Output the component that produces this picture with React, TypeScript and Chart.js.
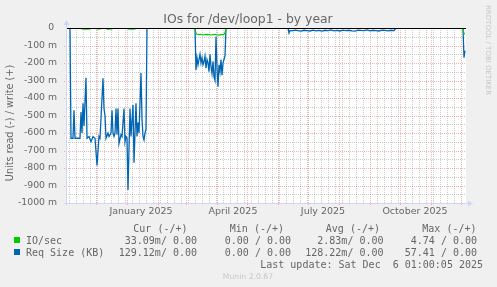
import React, { useEffect, useRef } from "react";
import { Chart, registerables } from "chart.js";

Chart.register(...registerables);

// ---- data (days since 1 Nov 2024; values in milli-units, read side is negative) ----
const reqDays = [
  0, 4, 5, 6, 7, 8, 9, 11, 14, 15, 16, 17, 18, 20, 21, 23, 25, 27, 29, 31, 33, 34, 37, 38, 39, 40, 42, 43,
  45, 46, 47, 48, 49, 50, 51, 52, 53, 55, 56, 58, 59, 60, 61, 62, 64, 65, 67, 68, 70, 71, 72, 73, 75, 76,
  77, 78, 79, 80, 81,
  129, 130, 131, 132, 133, 134, 135, 136, 137, 138, 139, 140, 141, 142, 143, 144, 145, 146, 147, 148, 149,
  150, 151, 152, 153, 154, 155, 156, 157, 158, 159, 160,
  222, 223, 224, 226, 229, 232, 235, 238, 241, 244, 247, 250, 253, 256, 259, 262, 265, 268, 271, 274, 277,
  280, 283, 286, 289, 292, 295, 298, 301, 304, 307, 310, 313, 316, 319, 322, 325, 328, 330,
  397, 398, 399,
];
const reqRead = [
  0, 0, -630, -630, -630, -470, -630, -630, -630, -480, -600, -430, -560, -285, -630, -620, -650, -620, -630,
  -785, -620, -630, -287, -460, -500, -630, -600, -620,
  -600, -470, -600, -620, -600, -460, -610, -460, -660, -610, -620, -460, -650, -620, -630, -925, -460, -620,
  -440, -770, -430, -620, -540, -600, -257, -520, -620, -640, -600, -580, 0,
  0, -240, -170, -210, -180, -150, -200, -170, -210, -190, -160, -230, -180, -200, -250, -150, -220, -260,
  -190, -280, -300, -50, -230, -335, -210, -250, -180, -270, -200, -180, -160, 0,
  0, -28, -14, -16, -12, -15, -18, -13, -15, -17, -12, -16, -14, -18, -13, -15, -11, -16, -14, -17, -12,
  -15, -13, -16, -18, -12, -14, -15, -11, -16, -13, -15, -17, -12, -14, -16, -13, -15, 0,
  0, -170, -129,
];

const ioDays = [
  0, 15, 16, 20, 24, 25, 30, 31, 34, 35, 40, 41, 46, 47, 61, 62, 66, 69, 70,
  129, 130, 131, 133, 135, 137, 139, 141, 143, 145, 147, 149, 151, 153, 155, 157, 158, 159, 160,
  397, 398, 399,
];
const ioRead = [
  0, 0, -5, -6, -5, 0, 0, -5, -5, 0, 0, -6, -5, 0, 0, -5, -6, -5, 0,
  0, -30, -36, -38, -36, -40, -38, -36, -38, -40, -38, -36, -40, -41, -38, -38, -36, -28, 0,
  0, -33, -33,
];

const yTickValues = [0, -100, -200, -300, -400, -500, -600, -700, -800, -900, -1000];
const monthStartDays = [0, 30, 61, 92, 120, 151, 181, 212, 242, 273, 304, 334, 365, 395];
const quarterLabels = ["January 2025", "April 2025", "July 2025", "October 2025"];
const quarterLabelDays = [75, 167, 257, 349];

const legendNames = ["IO/sec", "Req Size (KB)"];
const legendColors = ["#00cc00", "#0066b3"];
const legendHeaders = ["Cur (-/+)", "Min (-/+)", "Avg (-/+)", "Max (-/+)"];
const curVals = ["33.09m/ 0.00", "129.12m/ 0.00"];
const minVals = ["0.00 / 0.00", "0.00 / 0.00"];
const avgVals = ["2.83m/ 0.00", "128.22m/ 0.00"];
const maxVals = ["4.74 / 0.00", "57.41 / 0.00"];
const lastUpdate = "Last update: Sat Dec  6 01:00:05 2025";
const titleText = "IOs for /dev/loop1 - by year";
const yTitle = "Units read (-) / write (+)";

// ---- layout / style ----
const W = 497;
const H = 287;
const FONT = "#666666";
const AXIS = "#cfd6f8";
const SANS = "'DejaVu Sans', sans-serif";
const MONO = "'DejaVu Sans Mono', monospace";

function hLine(ctx: CanvasRenderingContext2D, x1: number, x2: number, y: number) {
  ctx.beginPath();
  ctx.moveTo(x1, y);
  ctx.lineTo(x2, y);
  ctx.stroke();
}
function vLine(ctx: CanvasRenderingContext2D, x: number, y1: number, y2: number) {
  ctx.beginPath();
  ctx.moveTo(x, y1);
  ctx.lineTo(x, y2);
  ctx.stroke();
}

const muninPlugin = {
  id: "munin",
  beforeDraw(chart: any) {
    const { ctx, chartArea: a } = chart;
    ctx.save();
    ctx.fillStyle = "#f0f0f0";
    ctx.fillRect(0, 0, W, H);
    ctx.fillStyle = "#ffffff";
    ctx.fillRect(a.left, a.top, a.right - a.left, a.bottom - a.top);
    ctx.restore();
  },
  beforeDatasetsDraw(chart: any) {
    const { ctx, chartArea: a } = chart;
    const xs = chart.scales.x;
    const ys = chart.scales.y;
    ctx.save();
    ctx.lineWidth = 1;
    ctx.setLineDash([1, 1]);
    // minor grid
    ctx.strokeStyle = "rgba(143,143,143,0.45)";
    for (let v = -50; v > -1000; v -= 100) {
      const py = Math.round(ys.getPixelForValue(v)) + 0.5;
      hLine(ctx, a.left, a.right, py);
    }
    for (let d = 3; d < 400; d += 7) {
      if (monthStartDays.includes(d)) continue;
      const px = Math.round(xs.getPixelForValue(d)) + 0.5;
      vLine(ctx, px, a.top, a.bottom);
    }
    // major grid
    ctx.strokeStyle = "rgba(222,79,79,0.42)";
    for (const v of yTickValues) {
      if (v === 0) continue;
      const py = Math.round(ys.getPixelForValue(v)) + 0.5;
      hLine(ctx, a.left - 2, a.right, py);
    }
    for (const d of monthStartDays) {
      if (d <= 0) continue;
      const px = Math.round(xs.getPixelForValue(d)) + 0.5;
      vLine(ctx, px, a.top, a.bottom + 2);
    }
    ctx.restore();
  },
  afterDatasetsDraw(chart: any) {
    const { ctx, chartArea: a } = chart;
    const ys = chart.scales.y;
    ctx.save();
    // zero line
    ctx.strokeStyle = "#000000";
    ctx.lineWidth = 1;
    const y0 = Math.round(ys.getPixelForValue(0)) + 0.5;
    hLine(ctx, a.left, a.right, y0);
    // axes
    ctx.strokeStyle = AXIS;
    const ax = Math.round(a.left) + 0.5;
    const ay = Math.round(a.bottom) + 0.5;
    vLine(ctx, ax, a.bottom + 2, a.top - 4);
    hLine(ctx, a.left - 2, a.right + 2, ay);
    ctx.fillStyle = AXIS;
    ctx.beginPath();
    ctx.moveTo(ax, a.top - 8);
    ctx.lineTo(ax - 3, a.top - 3);
    ctx.lineTo(ax + 3, a.top - 3);
    ctx.closePath();
    ctx.fill();
    ctx.beginPath();
    ctx.moveTo(a.right + 7, ay);
    ctx.lineTo(a.right + 2, ay - 3);
    ctx.lineTo(a.right + 2, ay + 3);
    ctx.closePath();
    ctx.fill();
    ctx.restore();
  },
  afterDraw(chart: any) {
    const { ctx } = chart;
    ctx.save();
    ctx.fillStyle = FONT;
    ctx.textBaseline = "alphabetic";
    // title
    ctx.font = `12.4px ${SANS}`;
    ctx.textAlign = "center";
    ctx.fillText(titleText, 248, 23);
    // y axis title
    ctx.save();
    ctx.translate(13, 123);
    ctx.rotate(-Math.PI / 2);
    ctx.font = `9.7px ${SANS}`;
    ctx.textAlign = "center";
    ctx.fillText(yTitle, 0, 0);
    ctx.restore();
    // rrdtool watermark
    ctx.save();
    ctx.translate(486, 5);
    ctx.rotate(Math.PI / 2);
    ctx.font = `7px ${SANS}`;
    ctx.textAlign = "left";
    ctx.fillStyle = "rgba(102,102,102,0.3)";
    ctx.fillText("RRDTOOL / TOBI OETIKER", 0, 0);
    ctx.restore();
    // legend
    ctx.font = `10px ${MONO}`;
    ctx.textAlign = "right";
    const headerEnds = [187.5, 284, 380, 476.5];
    legendHeaders.forEach((h, i) => ctx.fillText(h, headerEnds[i], 231.5));
    const valEnds = [197, 291, 383.5, 477];
    const rowsY = [243.5, 255.5];
    legendNames.forEach((name, i) => {
      ctx.fillStyle = legendColors[i];
      ctx.fillRect(14, rowsY[i] - 6.5, 6, 6);
      ctx.fillStyle = FONT;
      ctx.textAlign = "left";
      ctx.fillText(name, 26, rowsY[i]);
      ctx.textAlign = "right";
      ctx.fillText(curVals[i], valEnds[0], rowsY[i]);
      ctx.fillText(minVals[i], valEnds[1], rowsY[i]);
      ctx.fillText(avgVals[i], valEnds[2], rowsY[i]);
      ctx.fillText(maxVals[i], valEnds[3], rowsY[i]);
    });
    ctx.fillText(lastUpdate, 483, 267.5);
    ctx.font = `7.7px ${SANS}`;
    ctx.textAlign = "center";
    ctx.fillStyle = "rgba(102,102,102,0.3)";
    ctx.fillText("Munin 2.0.67", 248, 279);
    ctx.restore();
  },
};

export default function App() {
  const canvasRef = useRef<HTMLCanvasElement | null>(null);

  useEffect(() => {
    const canvas = canvasRef.current;
    if (!canvas) return;
    const chart = new Chart(canvas, {
      type: "line",
      data: {
        datasets: [
          {
            label: legendNames[0],
            data: ioDays.map((d, i) => ({ x: d, y: ioRead[i] })),
            borderColor: legendColors[0],
            borderWidth: 1.2,
            pointRadius: 0,
            tension: 0,
            fill: false,
          },
          {
            label: legendNames[1],
            data: reqDays.map((d, i) => ({ x: d, y: reqRead[i] })),
            borderColor: legendColors[1],
            borderWidth: 1.3,
            pointRadius: 0,
            tension: 0,
            fill: false,
          },
        ],
      },
      options: {
        animation: false,
        responsive: false,
        devicePixelRatio: 1,
        layout: { padding: { left: 0, top: 28, right: 31, bottom: 64 } },
        plugins: {
          legend: { display: false },
          title: { display: false },
          tooltip: { enabled: false },
        },
        scales: {
          x: {
            type: "linear",
            min: 0,
            max: 400,
            grid: { display: false, drawTicks: false },
            border: { display: false },
            afterBuildTicks: (scale: any) => {
              scale.ticks = quarterLabelDays.map((v) => ({ value: v }));
            },
            afterFit: (scale: any) => {
              scale.height = 20;
            },
            ticks: {
              autoSkip: false,
              maxRotation: 0,
              padding: 3,
              color: FONT,
              font: { family: SANS, size: 9.5 },
              callback: (v: any) => {
                const i = quarterLabelDays.indexOf(Number(v));
                return i >= 0 ? quarterLabels[i] : "";
              },
            },
          },
          y: {
            type: "linear",
            min: -1000,
            max: 0,
            grid: { display: false, drawTicks: false },
            border: { display: false },
            afterBuildTicks: (scale: any) => {
              scale.ticks = yTickValues.map((v) => ({ value: v }));
            },
            afterFit: (scale: any) => {
              scale.width = 66;
            },
            ticks: {
              padding: 9,
              color: FONT,
              font: { family: SANS, size: 9.3 },
              callback: (v: any) => (Number(v) === 0 ? "0 " : `${v} m`),
            },
          },
        },
      },
      plugins: [muninPlugin],
    });
    return () => chart.destroy();
  }, []);

  return (
    <div style={{ position: "fixed", left: 0, top: 0, width: W, height: H, background: "#f0f0f0" }}>
      <canvas ref={canvasRef} width={W} height={H} style={{ display: "block", width: W, height: H }} />
    </div>
  );
}
